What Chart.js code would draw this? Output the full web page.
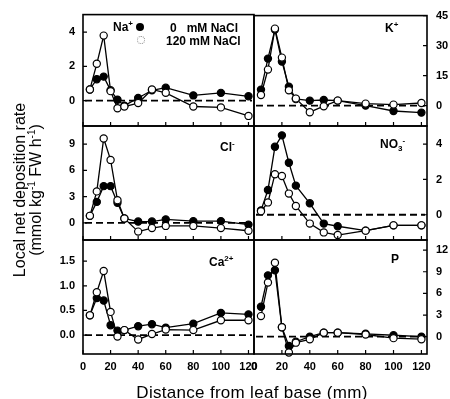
<!DOCTYPE html>
<html>
<head>
<meta charset="utf-8">
<script src="https://cdn.jsdelivr.net/npm/chart.js@4/dist/chart.umd.min.js"></script>
<style>
  body { margin: 0; background: #fff; width: 450px; height: 399px; position: relative; overflow: hidden;
         font-family: "Liberation Sans", Arial, sans-serif; color: #000; }
  canvas { position: absolute; left: 0; top: 0; }
  .lbl { position: absolute; font-weight: bold; font-size: 12px; line-height: 12px; white-space: nowrap; }
  .lbl sup { font-size: 8px; vertical-align: 5px; line-height: 0; }
  .dot { position: absolute; width: 8px; height: 8px; border-radius: 50%; box-sizing: border-box; }
  #ytitle { position: absolute; left: 28px; top: 190px; width: 260px; transform: translate(-50%, -50%) rotate(-90deg);
            text-align: center; font-size: 16px; line-height: 16px; }
  #ytitle sup { font-size: 10px; vertical-align: 6px; line-height: 0; }
  #xtitle { position: absolute; left: 252px; top: 383px; transform: translateX(-50%); font-size: 17px; letter-spacing: 0.3px; white-space: nowrap; }
</style>
</head>
<body>
<canvas id="na" width="450" height="399"></canvas>
<canvas id="k" width="450" height="399"></canvas>
<canvas id="cl" width="450" height="399"></canvas>
<canvas id="no3" width="450" height="399"></canvas>
<canvas id="ca" width="450" height="399"></canvas>
<canvas id="p" width="450" height="399"></canvas>

<div class="lbl" style="left:113px;top:21px;">Na<sup>+</sup></div>
<div class="dot" style="left:136px;top:23px;background:#000;"></div>
<div class="lbl" style="left:170px;top:22px;">0&nbsp;&nbsp;&nbsp;mM NaCl</div>
<div class="dot" style="left:137px;top:36px;border:1px dotted #888;"></div>
<div class="lbl" style="left:166px;top:35px;">120 mM NaCl</div>
<div class="lbl" style="left:385px;top:22px;">K<sup>+</sup></div>
<div class="lbl" style="left:220px;top:141px;">Cl<sup>-</sup></div>
<div class="lbl" style="left:380px;top:138px;">NO<span style="font-size:8px;vertical-align:-3px;">3</span><sup>-</sup></div>
<div class="lbl" style="left:209px;top:256px;">Ca<sup>2+</sup></div>
<div class="lbl" style="left:391px;top:253px;">P</div>

<div id="ytitle">Local net deposition rate<br>(mmol kg<sup>-1</sup> FW h<sup>-1</sup>)</div>
<div id="xtitle">Distance from leaf base (mm)</div>

<script>
// distance from leaf base (mm)
const distance = [5, 10, 15, 20, 25, 30, 40, 50, 60, 80, 100, 120];
const xTicks = [0, 20, 40, 60, 80, 100, 120];

// 0 mM NaCl (filled) and 120 mM NaCl (open)
const naCtrl = [0.65, 1.25, 1.4, 0.6, 0.05, -0.3, 0.15, 0.6, 0.75, 0.3, 0.45, 0.25];
const naSalt = [0.65, 2.15, 3.8, 0.55, -0.45, -0.35, -0.15, 0.65, 0.45, -0.35, -0.4, -0.9];
const kCtrl = [8, 23.5, 38, 22, 9.5, 3.3, 2.5, 2.8, 2.5, 0, -2.7, -3.5];
const kSalt = [5.3, 18, 38.5, 24, 7.7, 3.5, -3.3, -0.3, 2.5, 1, 0.5, 1.3];
const clCtrl = [0.8, 2.4, 4.2, 4.2, 2.3, 0.5, 0.15, 0.15, 0.4, 0.2, 0.2, -0.2];
const clSalt = [0.8, 3.6, 9.65, 7.2, 2.6, 0.5, -1.0, -0.6, -0.35, -0.35, -0.6, -0.9];
const no3Ctrl = [0.25, 1.4, 3.85, 4.5, 2.95, 1.65, 0.65, -0.5, -0.65, -0.9, -0.6, -0.6];
const no3Salt = [0.2, 0.7, 2.3, 2.2, 1.2, 0.5, -0.5, -1.0, -1.15, -0.9, -0.6, -0.6];
const caCtrl = [0.4, 0.75, 0.7, 0.2, 0.09, 0.1, 0.18, 0.22, 0.15, 0.23, 0.45, 0.42];
const caSalt = [0.4, 0.87, 1.3, 0.47, -0.03, 0.1, -0.09, 0.02, 0.11, 0.1, 0.3, 0.3];
const pCtrl = [4.15, 8.5, 9.2, 1.3, -1.3, -0.7, 0, 0.55, 0.55, 0.4, 0.2, 0];
const pSalt = [2.85, 7.5, 10.25, 1.3, -2.2, -0.83, -0.37, 0.55, 0.55, 0.3, -0.2, -0.35];

// y tick labels per panel
const naTicks = [0, 2, 4];
const kTicks = [0, 15, 30, 45];
const clTicks = [0, 3, 6, 9];
const no3Ticks = [0, 2, 4];
const caTicks = [0, 0.5, 1.0, 1.5];
const pTicks = [0, 3, 6, 9, 12];

// panel frame in page pixels
const colLeft = [83, 254], colRight = [254, 427];
const rowTop = [13, 126, 240], rowBottom = [126, 240, 354];
const Y_AXIS_W = 24, X_AXIS_H = 20;

const tickFont = { family: '"Liberation Sans", Arial, sans-serif', size: 11, weight: 'bold' };

// box, inward ticks and dashed zero line
const frame = {
  id: 'frame',
  beforeDatasetsDraw(chart) {
    const { ctx, chartArea: a, scales } = chart;
    const y0 = scales.y.getPixelForValue(0);
    ctx.save();
    ctx.strokeStyle = '#000';
    ctx.lineWidth = 1.8;
    ctx.setLineDash([7, 4]);
    ctx.beginPath();
    ctx.moveTo(a.left + 2, y0);
    ctx.lineTo(a.right - 2, y0);
    ctx.stroke();
    ctx.restore();
  },
  afterDatasetsDraw(chart) {
    const { ctx, chartArea: a, scales } = chart;
    ctx.save();
    ctx.strokeStyle = '#000';
    ctx.lineWidth = 1.6;
    ctx.strokeRect(a.left, a.top, a.right - a.left, a.bottom - a.top);
    ctx.lineWidth = 1.2;
    ctx.beginPath();
    const right = scales.y.position === 'right';
    scales.y.ticks.forEach(t => {
      const py = scales.y.getPixelForValue(t.value);
      if (right) { ctx.moveTo(a.right, py); ctx.lineTo(a.right - 4, py); }
      else { ctx.moveTo(a.left, py); ctx.lineTo(a.left + 4, py); }
    });
    xTicks.forEach(v => {
      const px = scales.x.getPixelForValue(v);
      ctx.moveTo(px, a.bottom); ctx.lineTo(px, a.bottom - 4);
    });
    ctx.stroke();
    ctx.restore();
  }
};

function series(vals, filled) {
  return {
    data: distance.map((d, i) => ({ x: d, y: vals[i] })),
    showLine: true,
    borderColor: '#000',
    borderWidth: 1.3,
    pointRadius: 3.6,
    pointBorderWidth: 1.2,
    pointBackgroundColor: filled ? '#000' : '#fff',
    pointBorderColor: '#000',
    clip: false
  };
}

function makePanel(id, ctrl, salt, yTicks, yMin, yMax, col, row, digits) {
  const bottomRow = row === 2;
  new Chart(document.getElementById(id), {
    type: 'scatter',
    data: { datasets: [series(salt, false), series(ctrl, true)] },
    options: {
      responsive: false,
      animation: false,
      devicePixelRatio: 1,
      layout: {
        padding: {
          left: col === 0 ? colLeft[0] - Y_AXIS_W : colLeft[1],
          right: col === 0 ? 450 - colRight[0] : 450 - colRight[1] - Y_AXIS_W,
          top: rowTop[row],
          bottom: bottomRow ? 399 - rowBottom[row] - X_AXIS_H : 399 - rowBottom[row]
        }
      },
      plugins: { legend: { display: false }, tooltip: { enabled: false } },
      scales: {
        x: {
          type: 'linear', min: 0, max: 124, display: bottomRow,
          grid: { display: false, drawTicks: false }, border: { display: false },
          ticks: { font: tickFont, color: '#000', padding: 6 },
          afterBuildTicks: s => { s.ticks = xTicks.map(v => ({ value: v })); },
          afterFit: s => { s.height = bottomRow ? X_AXIS_H : 0; }
        },
        y: {
          type: 'linear', position: col === 0 ? 'left' : 'right', min: yMin, max: yMax,
          grid: { display: false, drawTicks: false }, border: { display: false },
          ticks: {
            font: tickFont, color: '#000', padding: col === 0 ? 8 : 9,
            callback: v => v.toFixed(digits)
          },
          afterBuildTicks: s => { s.ticks = yTicks.map(v => ({ value: v })); },
          afterFit: s => { s.width = Y_AXIS_W; }
        }
      }
    },
    plugins: [frame]
  });
}

makePanel('na', naCtrl, naSalt, naTicks, -1.49, 5.03, 0, 0, 0);
makePanel('k', kCtrl, kSalt, kTicks, -10.2, 45, 1, 0, 0);
makePanel('cl', clCtrl, clSalt, clTicks, -1.96, 11.08, 0, 1, 0);
makePanel('no3', no3Ctrl, no3Salt, no3Ticks, -1.43, 5.03, 1, 1, 0);
makePanel('ca', caCtrl, caSalt, caTicks, -0.385, 1.93, 0, 2, 1);
makePanel('p', pCtrl, pSalt, pTicks, -2.4, 13.4, 1, 2, 0);
</script>
</body>
</html>
